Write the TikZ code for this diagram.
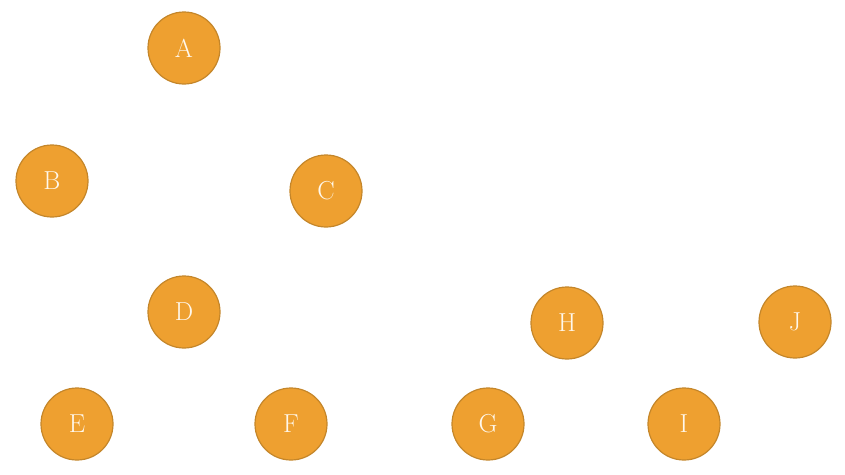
\documentclass[tikz,border=0pt]{standalone}
\usepackage{fontspec}
\setmainfont{Latin Modern Roman}
\begin{document}
\begin{tikzpicture}[x=1pt,y=-1pt,
  vtx/.style={circle,fill=vfill,draw=vdraw,line width=1.2pt,minimum size=72pt,inner sep=0pt,text=vtext,font=\fontsize{26}{28}\selectfont}]
\definecolor{vfill}{HTML}{EEA030}
\definecolor{vdraw}{HTML}{C4862A}
\definecolor{vtext}{HTML}{FFF8EC}
\useasboundingbox (0,0) rectangle (845,474);
\node[vtx] (A) at (184,48) {A};
\node[vtx] (B) at (52,181) {B};
\node[vtx] (C) at (326,191) {C};
\node[vtx] (D) at (184,312) {D};
\node[vtx] (E) at (77,424) {E};
\node[vtx] (F) at (291,424) {F};
\node[vtx] (G) at (488,424) {G};
\node[vtx] (H) at (567,323) {H};
\node[vtx] (I) at (684,424) {I};
\node[vtx] (J) at (795,322) {J};
\end{tikzpicture}
\end{document}
